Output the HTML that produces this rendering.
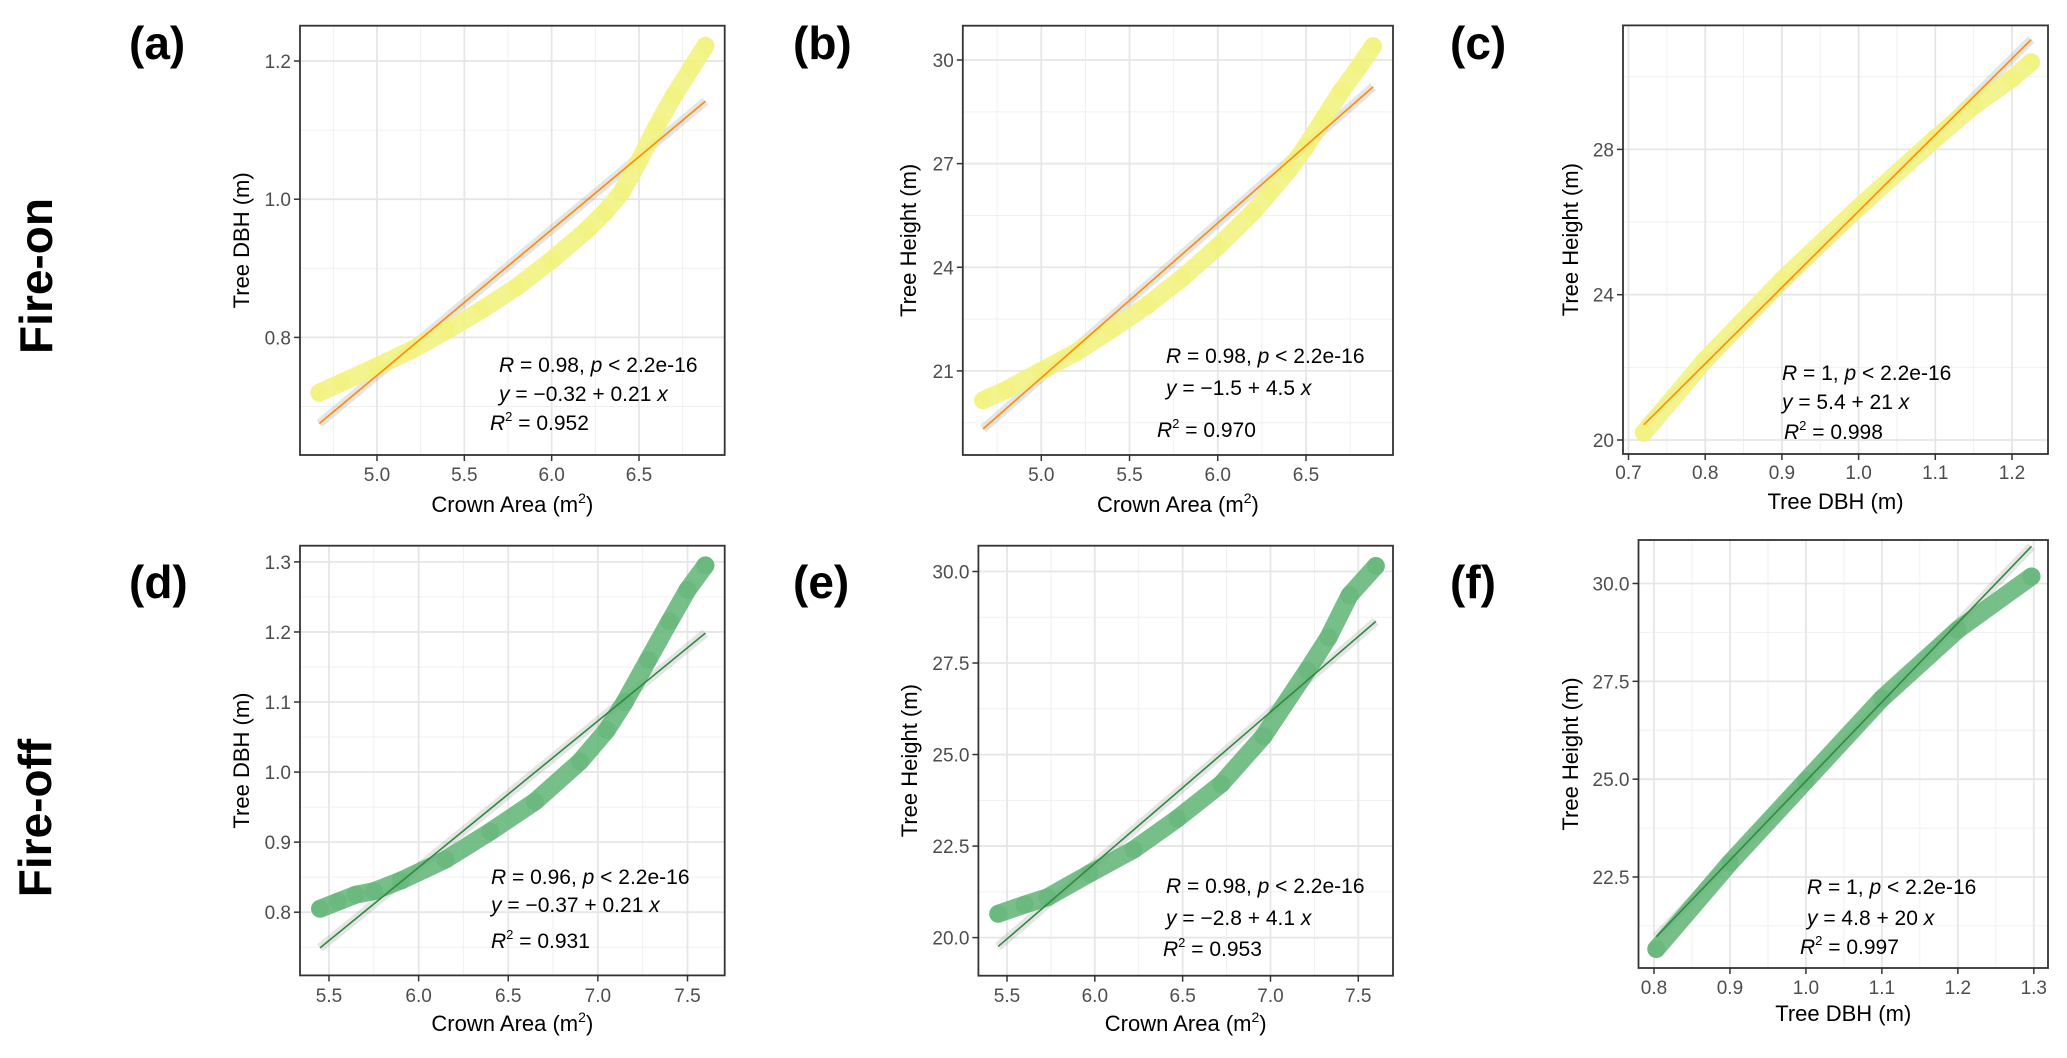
<!DOCTYPE html>
<html><head><meta charset="utf-8">
<style>
html,body{margin:0;padding:0;background:#fff;}
svg{display:block;font-family:"Liberation Sans",Arial,sans-serif;}
</style></head>
<body>
<svg id="fig" width="2067" height="1058" viewBox="0 0 2067 1058" xmlns="http://www.w3.org/2000/svg">
<rect x="0" y="0" width="2067" height="1058" fill="#fff"/>
<text x="0" y="0" transform="translate(52,276) rotate(-90)" text-anchor="middle" font-size="46" font-weight="bold">Fire-on</text>
<text x="0" y="0" transform="translate(51,818) rotate(-90)" text-anchor="middle" font-size="46" font-weight="bold">Fire-off</text>
</svg>
<script>
// ---- data arrays ----
const aX = [4.67,4.8,5.0,5.2,5.4,5.6,5.8,6.0,6.2,6.3,6.4,6.5,6.6,6.7,6.8,6.88];
const aY = [0.72,0.735,0.758,0.782,0.81,0.84,0.873,0.912,0.955,0.98,1.01,1.055,1.105,1.15,1.19,1.222];
const bX = [4.67,4.8,5.0,5.2,5.4,5.6,5.8,6.0,6.2,6.3,6.4,6.5,6.6,6.7,6.8,6.88];
const bY = [20.15,20.45,21.0,21.55,22.2,22.9,23.7,24.6,25.6,26.2,26.8,27.5,28.3,29.1,29.8,30.4];
const cX = [0.72,0.8,0.9,1.0,1.1,1.15,1.2,1.225];
const cY = [20.2,22.2,24.4,26.4,28.3,29.2,29.95,30.4];
const dX = [5.45,5.55,5.65,5.75,5.9,6.15,6.4,6.65,6.9,7.05,7.15,7.28,7.4,7.5,7.6];
const dY = [0.805,0.815,0.825,0.83,0.845,0.875,0.915,0.958,1.015,1.06,1.10,1.16,1.215,1.26,1.295];
const eX = [5.45,5.6,5.73,5.97,6.22,6.47,6.72,6.96,7.21,7.33,7.45,7.6];
const eY = [20.65,20.9,21.1,21.75,22.4,23.25,24.2,25.5,27.3,28.2,29.35,30.15];
const fX = [0.803,0.9,1.0,1.1,1.2,1.297];
const fY = [20.66,22.86,24.96,27.06,28.82,30.18];
// regression fits: intercept, slope
const aFit = [-0.31, 0.211];
const bFit = [-1.6, 4.48];
const cFit = [5.3, 21.0];
const dFit = [-0.39, 0.209];
const eFit = [-2.75, 4.13];
const fFit = [4.75, 20.2];
// tick values
const aXt = [5.0,5.5,6.0,6.5], aYt = [0.8,1.0,1.2];
const bXt = [5.0,5.5,6.0,6.5], bYt = [21,24,27,30];
const cXt = [0.7,0.8,0.9,1.0,1.1,1.2], cYt = [20,24,28];
const dXt = [5.5,6.0,6.5,7.0,7.5], dYt = [0.8,0.9,1.0,1.1,1.2,1.3];
const eXt = [5.5,6.0,6.5,7.0,7.5], eYt = [20.0,22.5,25.0,27.5,30.0];
const fXt = [0.8,0.9,1.0,1.1,1.2,1.3], fYt = [22.5,25.0,27.5,30.0];
// annotation strings
const aAnn = ["0.98","-0.32","0.21","0.952"];
const bAnn = ["0.98","-1.5","4.5","0.970"];
const cAnn = ["1","5.4","21","0.998"];
const dAnn = ["0.96","-0.37","0.21","0.931"];
const eAnn = ["0.98","-2.8","4.1","0.953"];
const fAnn = ["1","4.8","20","0.997"];

const NS = "http://www.w3.org/2000/svg";
const svg = document.getElementById('fig');
function mk(tag, attrs, parent){const e=document.createElementNS(NS,tag);for(const k in attrs)e.setAttribute(k,attrs[k]);(parent||svg).appendChild(e);return e;}

const YEL = {pt:"#f2f27a", line:"#ff8c00"};
const GRN = {pt:"#5fb474", line:"#2e8b3e"};

const panels = [
 {id:"a",X:aX,Y:aY,fit:aFit,xt:aXt,yt:aYt,ann:aAnn,col:YEL,box:[300,25.7,724.7,455],xm:[5.0,377,6.5,639],ym:[0.8,337.4,1.2,61],dec:[1,1],lab:[129,59],yt_x:241,xl:"Crown Area (m",sup:true,ylab:"Tree DBH (m)",an:[499,365,394,490,423],xtY:481,xlY:512},
 {id:"b",X:bX,Y:bY,fit:bFit,xt:bXt,yt:bYt,ann:bAnn,col:YEL,box:[962.8,25.7,1393,455],xm:[5.0,1041.3,6.5,1306],ym:[21,370.9,30,60],dec:[1,0],lab:[793,59],yt_x:908,xl:"Crown Area (m",sup:true,ylab:"Tree Height (m)",an:[1166,356,388,1157,430],xtY:481,xlY:512},
 {id:"c",X:cX,Y:cY,fit:cFit,xt:cXt,yt:cYt,ann:cAnn,col:YEL,box:[1623,25.4,2048,454],xm:[0.7,1628.5,1.2,2012],ym:[20,440,28,149.4],dec:[1,0],lab:[1450,59],yt_x:1570,xl:"Tree DBH (m)",sup:false,ylab:"Tree Height (m)",an:[1782,373,402,1784,432],xtY:479,xlY:509},
 {id:"d",X:dX,Y:dY,fit:dFit,xt:dXt,yt:dYt,ann:dAnn,col:GRN,box:[300,545.7,724.7,975.4],xm:[5.5,329,7.5,687.5],ym:[0.8,912.2,1.3,561.9],dec:[1,1],lab:[129,598],yt_x:241,xl:"Crown Area (m",sup:true,ylab:"Tree DBH (m)",an:[491,877,905,491,941],xtY:1002,xlY:1031},
 {id:"e",X:eX,Y:eY,fit:eFit,xt:eXt,yt:eYt,ann:eAnn,col:GRN,box:[978.4,545.7,1393,975.7],xm:[5.5,1007,7.5,1358.3],ym:[20,937.6,30,571.5],dec:[1,1],lab:[793,598],yt_x:909,xl:"Crown Area (m",sup:true,ylab:"Tree Height (m)",an:[1166,886,918,1163,949],xtY:1002,xlY:1031},
 {id:"f",X:fX,Y:fY,fit:fFit,xt:fXt,yt:fYt,ann:fAnn,col:GRN,box:[1638.5,540,2048,968],xm:[0.8,1654,1.3,2033.8],ym:[22.5,877,30,583.5],dec:[1,1],lab:[1450,598],yt_x:1570,xl:"Tree DBH (m)",sup:false,ylab:"Tree Height (m)",an:[1807,887,918,1800,947],xtY:994,xlY:1021}
];

panels.forEach(p=>{
  const [L,T,R,B]=p.box;
  const sx=v=>p.xm[1]+(v-p.xm[0])*(p.xm[3]-p.xm[1])/(p.xm[2]-p.xm[0]);
  const sy=v=>p.ym[1]+(v-p.ym[0])*(p.ym[3]-p.ym[1])/(p.ym[2]-p.ym[0]);
  const g=mk('g',{});
  
  
  const lab=mk('text',{x:p.lab[0],y:p.lab[1],'font-size':46,'font-weight':'bold'},g);
  lab.textContent='('+p.id+')';
  
  
  mk('rect',{x:L,y:T,width:R-L,height:B-T,fill:'#fff'},g);
  // grid
  const xs=p.xt[1]-p.xt[0], ys=p.yt[1]-p.yt[0];
  for(let i=-1;i<p.xt.length;i++){const v=p.xt[0]+(i+0.5)*xs;const px=sx(v);if(px>L&&px<R){const l=mk('line',{x1:px,x2:px,y1:T,y2:B,stroke:'#f0f0f0','stroke-width':1},g);}}
  for(let i=-1;i<p.yt.length;i++){const v=p.yt[0]+(i+0.5)*ys;const py=sy(v);if(py>T&&py<B){const l=mk('line',{x1:L,x2:R,y1:py,y2:py,stroke:'#f0f0f0','stroke-width':1},g);}}
  p.xt.forEach(v=>{const px=sx(v);const l=mk('line',{x1:px,x2:px,y1:T,y2:B,stroke:'#e6e6e6','stroke-width':1.8},g);
    mk('line',{x1:px,x2:px,y1:B,y2:B+6,stroke:'#333','stroke-width':1.5},g);
    const t=mk('text',{x:px,y:p.xtY,'text-anchor':'middle','font-size':19,fill:'#4d4d4d'},g);t.textContent=v.toFixed(p.dec[0]);});
  p.yt.forEach(v=>{const py=sy(v);const l=mk('line',{x1:L,x2:R,y1:py,y2:py,stroke:'#e6e6e6','stroke-width':1.8},g);
    mk('line',{x1:L-6,x2:L,y1:py,y2:py,stroke:'#333','stroke-width':1.5},g);
    const t=mk('text',{x:L-9,y:py+7,'text-anchor':'end','font-size':19,fill:'#4d4d4d'},g);t.textContent=v.toFixed(p.dec[1]);});
  // confidence band + fit line
  const x0=p.X[0], x1=p.X[p.X.length-1];
  const band=mk('line',{x1:sx(x0),y1:sy(p.fit[0]+p.fit[1]*x0),x2:sx(x1),y2:sy(p.fit[0]+p.fit[1]*x1),stroke:'#999','stroke-opacity':0.25,'stroke-width':9,'stroke-linecap':'butt'},g);
  
  
  // points
  const pts=p.X.map((x,i)=>sx(x)+','+sy(p.Y[i])).join(' ');
  const pl=mk('polyline',{points:pts,fill:'none',stroke:p.col.pt,'stroke-opacity':0.85,'stroke-width':18,'stroke-linejoin':'round','stroke-linecap':'round'},g);
  
  
  p.X.forEach((x,i)=>{const c=mk('circle',{cx:sx(x),cy:sy(p.Y[i]),r:9,fill:p.col.pt,'fill-opacity':0.5},g);
    
    });
  const fl=mk('line',{x1:sx(x0),y1:sy(p.fit[0]+p.fit[1]*x0),x2:sx(x1),y2:sy(p.fit[0]+p.fit[1]*x1),stroke:p.col.line,'stroke-width':1.6},g);
  
  
  mk('rect',{x:L,y:T,width:R-L,height:B-T,fill:'none',stroke:'#333','stroke-width':1.8},g);
  // axis titles
  const xt=mk('text',{x:(L+R)/2,y:p.xlY,'text-anchor':'middle','font-size':22},g);
  
  
  if(p.sup){xt.innerHTML='Crown Area (m<tspan dy="-9" font-size="14">2</tspan><tspan dy="9">)</tspan>';}else{xt.textContent=p.xl;}
  const cy=(T+B)/2;
  const yl=mk('text',{x:0,y:0,transform:'translate('+(p.yt_x+8)+','+cy+') rotate(-90)','text-anchor':'middle','font-size':22},g);
  yl.textContent=p.ylab;
  
  
  // annotation
  const a=p.ann, an=p.an;
  const t1=mk('text',{x:an[0],y:an[1]+7,'font-size':21},g);
  t1.innerHTML='<tspan font-style="italic">R</tspan> = '+a[0]+', <tspan font-style="italic">p</tspan> &lt; 2.2e-16';
  
  
  const t2=mk('text',{x:an[0],y:an[2]+7,'font-size':21},g);
  const ic=a[1].startsWith('-')?'\u2212'+a[1].slice(1):a[1];
  t2.innerHTML='<tspan font-style="italic">y</tspan> = '+ic+' + '+a[2]+' <tspan font-style="italic">x</tspan>';
  
  
  const t3=mk('text',{x:an[3],y:an[4]+7,'font-size':21},g);
  t3.innerHTML='<tspan font-style="italic">R</tspan><tspan dy="-9" font-size="13">2</tspan><tspan dy="9"> = '+a[3]+'</tspan>';
  
  
});
</script>
</body></html>
